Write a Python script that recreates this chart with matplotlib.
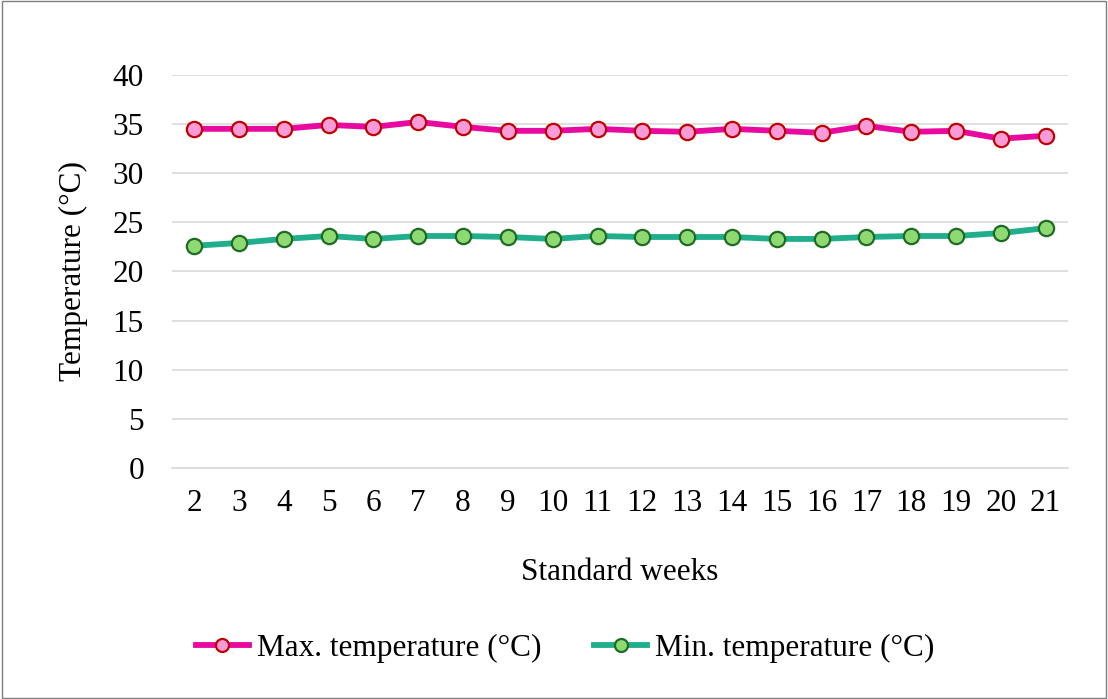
import matplotlib
matplotlib.use("Agg")
import matplotlib.pyplot as plt
from matplotlib.patches import Rectangle

# --- Data ---
weeks = list(range(2, 22))
max_temp = [34.5, 34.5, 34.5, 34.9, 34.7, 35.2, 34.7, 34.3, 34.3, 34.5,
            34.3, 34.2, 34.5, 34.3, 34.1, 34.8, 34.2, 34.3, 33.5, 33.8]
min_temp = [22.6, 22.9, 23.3, 23.6, 23.3, 23.6, 23.6, 23.5, 23.3, 23.6,
            23.5, 23.5, 23.5, 23.3, 23.3, 23.5, 23.6, 23.6, 23.9, 24.4]
y_ticks = [0, 5, 10, 15, 20, 25, 30, 35, 40]

MAX_LINE = "#E80AA0"
MAX_FILL = "#F99AD9"
MAX_EDGE = "#C00000"
MIN_LINE = "#20AE8C"
MIN_FILL = "#8FD973"
MIN_EDGE = "#1E6B23"
GRID = "#D9D9D9"
FS = 22.5

plt.rcParams["font.family"] = ["Liberation Serif", "DejaVu Serif"]

fig = plt.figure(figsize=(11.08, 6.99), dpi=100)
fig.patches.append(Rectangle((0.002, 0.002), 0.996, 0.996, transform=fig.transFigure,
                             fill=False, edgecolor="#7F7F7F", linewidth=1.0))
ax = fig.add_axes([0.155, 0.3305, 0.809, 0.5625])

x = list(range(len(weeks)))
ax.plot(x, max_temp, color=MAX_LINE, linewidth=4.2, marker="o", markersize=11,
        markerfacecolor=MAX_FILL, markeredgecolor=MAX_EDGE, markeredgewidth=1.6,
        label="Max. temperature (°C)", zorder=3)
ax.plot(x, min_temp, color=MIN_LINE, linewidth=4.2, marker="o", markersize=11,
        markerfacecolor=MIN_FILL, markeredgecolor=MIN_EDGE, markeredgewidth=1.6,
        label="Min. temperature (°C)", zorder=3)

ax.set_xlim(-0.5, len(weeks) - 0.5)
ax.set_ylim(0, 40)
ax.set_yticks(y_ticks)
ax.set_xticks(x)
ax.set_xticklabels([str(w) for w in weeks])
ax.tick_params(axis="both", length=0, labelsize=FS)
ax.tick_params(axis="y", pad=20)
ax.tick_params(axis="x", pad=15)
ax.grid(axis="y", color=GRID, linewidth=1.2)
ax.set_axisbelow(True)
for side in ("top", "right", "left"):
    ax.spines[side].set_visible(False)
ax.spines["bottom"].set_color(GRID)
ax.spines["bottom"].set_linewidth(1.2)

ax.set_ylabel("Temperature (°C)", fontsize=FS, labelpad=18)
ax.set_xlabel("Standard weeks", fontsize=FS, labelpad=29)

fig.legend(loc="center", bbox_to_anchor=(0.510, 0.073), ncol=2, frameon=False,
           fontsize=FS, handlelength=1.7, handletextpad=0.25, columnspacing=1.7,
           markerscale=0.85)

fig.savefig("out.png", dpi=100)
